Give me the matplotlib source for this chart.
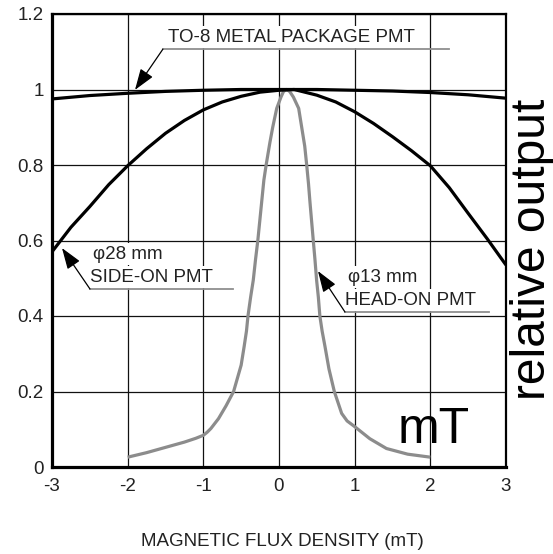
import matplotlib
matplotlib.use("Agg")
import matplotlib.pyplot as plt

plt.rcParams["font.family"] = ["Liberation Sans", "DejaVu Sans"]

# Relative output vs. magnetic flux density (mT)
to8_x = [-3, -2.5, -2, -1.5, -1, -0.5, 0, 0.5, 1, 1.5, 2, 2.5, 3]
to8_y = [0.975, 0.984, 0.99, 0.995, 0.998, 1.0, 1.0, 1.0, 0.998, 0.996, 0.992, 0.986, 0.977]

side_x = [-3, -2.75, -2.5, -2.25, -2, -1.75, -1.5, -1.25, -1, -0.75, -0.5, -0.25,
          0, 0.2, 0.5, 0.75, 1, 1.25, 1.5, 1.75, 2, 2.25, 2.5, 2.75, 3]
side_y = [0.57, 0.635, 0.69, 0.748, 0.798, 0.843, 0.884, 0.918, 0.946, 0.967, 0.982, 0.993,
          0.998, 1.0, 0.985, 0.967, 0.941, 0.91, 0.875, 0.838, 0.798, 0.74, 0.672, 0.605, 0.535]

head_x = [-2.0, -1.75, -1.5, -1.25, -1.1, -1.0, -0.95, -0.9, -0.8, -0.7, -0.6, -0.55,
          -0.5, -0.46, -0.43, -0.41, -0.375, -0.34, -0.31, -0.28, -0.23, -0.2, -0.17,
          -0.12, -0.083, -0.03, 0.026, 0.06, 0.1, 0.14, 0.19, 0.26, 0.30, 0.34, 0.366,
          0.39, 0.41, 0.453, 0.475, 0.497, 0.52, 0.54, 0.57, 0.608, 0.66, 0.731, 0.828,
          0.9, 1.0, 1.2, 1.42, 1.7, 2.0]
head_y = [0.026, 0.038, 0.052, 0.066, 0.076, 0.084, 0.092, 0.102, 0.128, 0.162, 0.2, 0.235,
          0.27, 0.32, 0.36, 0.4, 0.45, 0.495, 0.55, 0.6, 0.7, 0.76, 0.8,
          0.86, 0.9, 0.95, 0.98, 0.995, 1.0, 0.995, 0.98, 0.95, 0.9, 0.85, 0.8,
          0.75, 0.7, 0.6, 0.55, 0.495, 0.45, 0.4, 0.36, 0.319, 0.26, 0.2, 0.142,
          0.122, 0.107, 0.075, 0.049, 0.034, 0.026]

x_ticks = [-3, -2, -1, 0, 1, 2, 3]
y_ticks = [0, 0.2, 0.4, 0.6, 0.8, 1, 1.2]
y_ticklabels = ["0", "0.2", "0.4", "0.6", "0.8", "1", "1.2"]

fig = plt.figure(figsize=(5.53, 5.54), dpi=100)
ax = fig.add_axes([52 / 553, 87 / 554, 454 / 553, 453 / 554])
ax.set_xlim(-3, 3)
ax.set_ylim(0, 1.2)
ax.set_xticks(x_ticks)
ax.set_xticklabels([str(v) for v in x_ticks])
ax.set_yticks(y_ticks)
ax.set_yticklabels(y_ticklabels)
ax.tick_params(axis="both", length=0, labelsize=13.5, colors="#222222")
ax.tick_params(axis="x", pad=8)
ax.tick_params(axis="y", pad=6)
ax.grid(True, color="#111111", lw=0.9, zorder=0)
ax.set_axisbelow(True)
for side in ("left", "bottom"):
    ax.spines[side].set_linewidth(2.3)
for side in ("top", "right"):
    ax.spines[side].set_linewidth(1.6)

line_kw = dict(lw=2.3, solid_joinstyle="round", solid_capstyle="butt")
ax.plot(head_x, head_y, color="#8c8c8c", zorder=4, **line_kw)
ax.plot(side_x, side_y, color="black", zorder=5, **line_kw)
ax.plot(to8_x, to8_y, color="black", zorder=5, **line_kw)

box = dict(facecolor="white", edgecolor="none", pad=2)
lab_kw = dict(fontsize=13.5, color="#222222", ha="left", va="center", zorder=3, bbox=box)


def leader(x0, x1, y, tip):
    ax.plot([x0, x1], [y, y], color="#8f8f8f", lw=1.3, zorder=3)
    ax.annotate("", xy=tip, xytext=(x0, y),
                arrowprops=dict(arrowstyle="-|>,head_length=1.0,head_width=0.35",
                                mutation_scale=13, color="black", lw=0.9,
                                shrinkA=0, shrinkB=0),
                zorder=6)


# TO-8 label
ax.text(-1.467, 1.139, "TO-8 METAL PACKAGE PMT", **lab_kw)
leader(-1.534, 2.246, 1.107, (-1.903, 0.999))

# side-on label
ax.text(-2.458, 0.564, "φ28 mm", **lab_kw)
ax.text(-2.498, 0.503, "SIDE-ON PMT", **lab_kw)
leader(-2.498, -0.608, 0.4715, (-2.868, 0.58))

# head-on label
ax.text(0.912, 0.503, "φ13 mm", **lab_kw)
ax.text(0.872, 0.442, "HEAD-ON PMT", **lab_kw)
leader(0.872, 2.775, 0.4106, (0.515, 0.519))

fig.text(0.511, 12 / 554, "MAGNETIC FLUX DENSITY (mT)", fontsize=13.5,
         color="#222222", ha="center", va="center")

fig.text(398 / 553, 111 / 554, "mT", fontsize=36, ha="left", va="baseline")
fig.text(545 / 553, 0.5505, "relative output", fontsize=34.5, rotation=90,
         rotation_mode="anchor", ha="center", va="baseline")

fig.savefig("out.png", dpi=100)
